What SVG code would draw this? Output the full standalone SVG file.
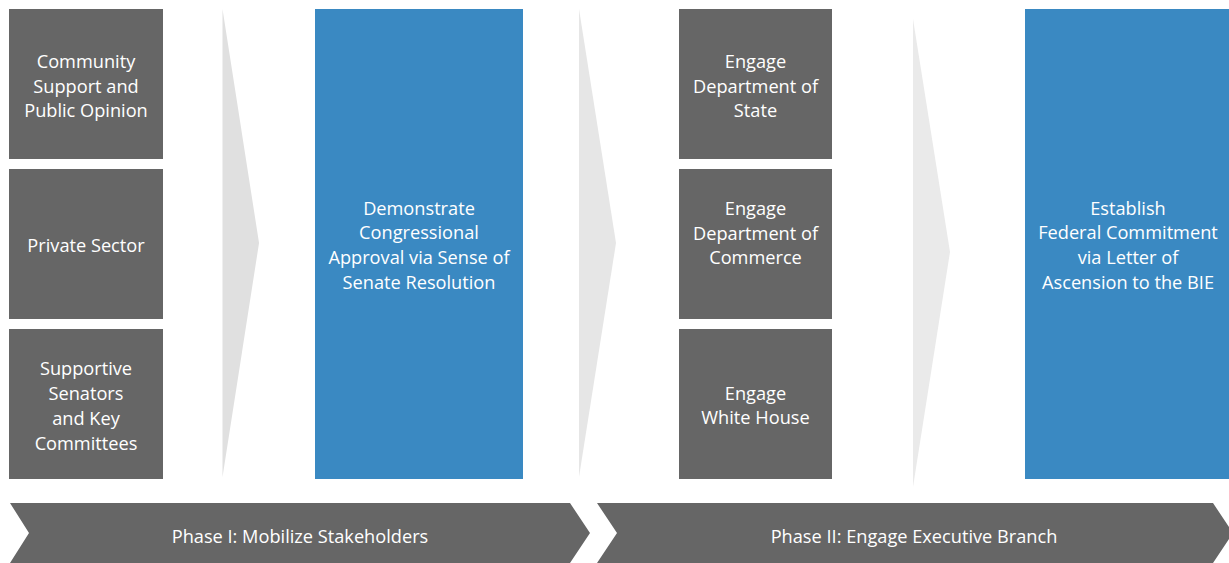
<svg xmlns="http://www.w3.org/2000/svg" width="1229" height="563" viewBox="0 0 1229 563">
<style>
.g{fill:#666666}
.b{fill:#3a89c2}
.t{font-family:"Open Sans","Liberation Sans",sans-serif;font-size:18.2px;fill:#ffffff;text-anchor:middle;dominant-baseline:central}
</style>
<rect width="1229" height="563" fill="#ffffff"/>
<g id="connectors">
<polygon points="222.5,9 259,243 222.5,477" fill="#e0e0e0"/>
<polygon points="579,9 616,243 579,477" fill="#e6e6e6"/>
<polygon points="913,19 950,252 913,487" fill="#eaeaea"/>
</g>
<g id="n-community"><rect class="g" x="9" y="9" width="154" height="150"/><text class="t"><tspan x="86" y="61">Community</tspan><tspan x="86" y="86">Support and</tspan><tspan x="86" y="110">Public Opinion</tspan></text></g>
<g id="n-private"><rect class="g" x="9" y="169" width="154" height="150"/><text class="t" x="86" y="245">Private Sector</text></g>
<g id="n-senators"><rect class="g" x="9" y="329" width="154" height="150"/><text class="t"><tspan x="86" y="368">Supportive</tspan><tspan x="86" y="393">Senators</tspan><tspan x="86" y="418">and Key</tspan><tspan x="86" y="443">Committees</tspan></text></g>
<g id="n-congress"><rect class="b" x="315" y="9" width="208" height="470"/><text class="t"><tspan x="419" y="208">Demonstrate</tspan><tspan x="419" y="232">Congressional</tspan><tspan x="419" y="257">Approval via Sense of</tspan><tspan x="419" y="282">Senate Resolution</tspan></text></g>
<g id="n-state"><rect class="g" x="679" y="9" width="153" height="150"/><text class="t"><tspan x="755.5" y="61">Engage</tspan><tspan x="755.5" y="86">Department of</tspan><tspan x="755.5" y="110">State</tspan></text></g>
<g id="n-commerce"><rect class="g" x="679" y="169" width="153" height="150"/><text class="t"><tspan x="755.5" y="208">Engage</tspan><tspan x="755.5" y="233">Department of</tspan><tspan x="755.5" y="257">Commerce</tspan></text></g>
<g id="n-whitehouse"><rect class="g" x="679" y="329" width="153" height="150"/><text class="t"><tspan x="755.5" y="393">Engage</tspan><tspan x="755.5" y="417">White House</tspan></text></g>
<g id="n-federal"><rect class="b" x="1025" y="9" width="204" height="470"/><text class="t"><tspan x="1128" y="208">Establish</tspan><tspan x="1128" y="232">Federal Commitment</tspan><tspan x="1128" y="257">via Letter of</tspan><tspan x="1128" y="282">Ascension to the BIE</tspan></text></g>
<g id="n-phase1"><polygon class="g" points="10,503 570,503 590,533 570,563 10,563 29,533"/><text class="t" x="300" y="536">Phase I: Mobilize Stakeholders</text></g>
<g id="n-phase2"><polygon class="g" points="597,503 1213,503 1233,533 1213,563 597,563 617,533"/><text class="t" x="914" y="536">Phase II: Engage Executive Branch</text></g>
</svg>
